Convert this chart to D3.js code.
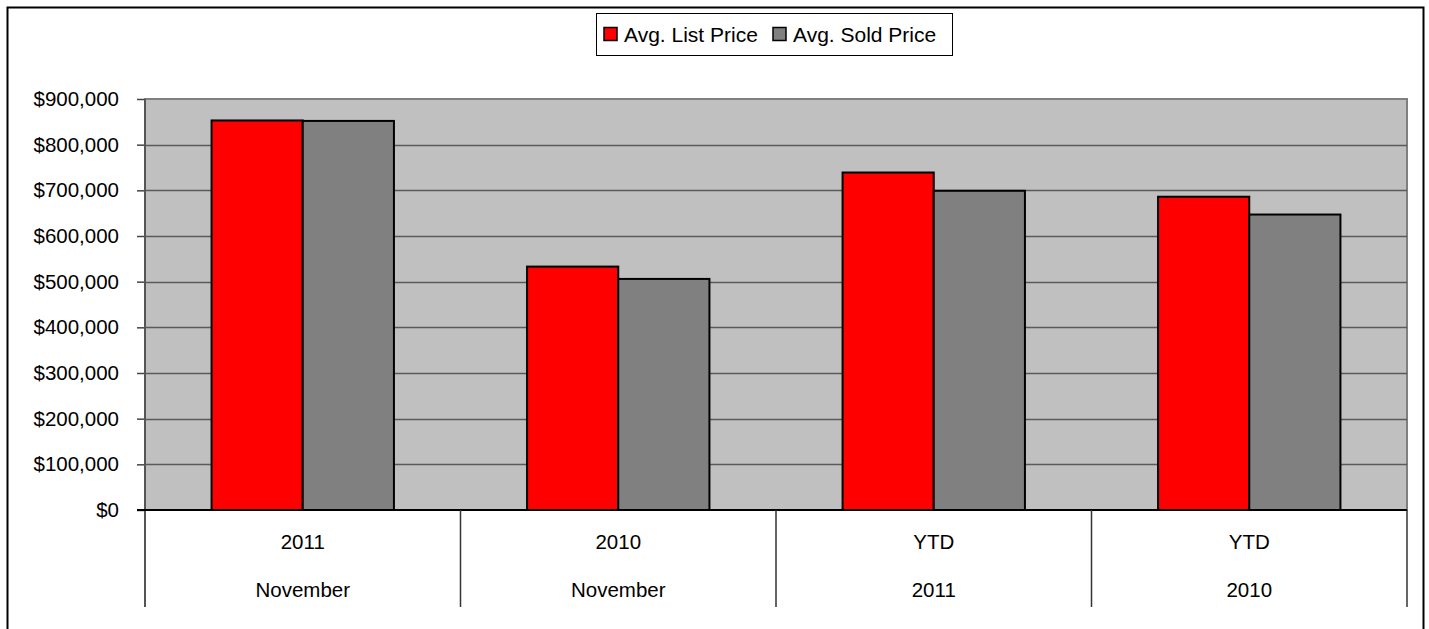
<!DOCTYPE html>
<html>
<head>
<meta charset="utf-8">
<script src="https://cdn.jsdelivr.net/npm/d3@7"></script>
<style>
  body { margin: 0; background: #fff; }
  svg text { font-family: "Liberation Sans", Arial, sans-serif; fill: #000; }
</style>
</head>
<body>
<svg id="chart" width="1429" height="629"></svg>
<script>
// chart data
var periods = ['2011', '2010', 'YTD', 'YTD'];
var groups = ['November', 'November', '2011', '2010'];
var seriesNames = ['Avg. List Price', 'Avg. Sold Price'];
var seriesColors = ['#ff0000', '#808080'];
var listPrice = [853000, 533000, 739000, 686000];
var soldPrice = [852000, 506000, 699000, 647000];
var yTicks = [0, 100000, 200000, 300000, 400000, 500000, 600000, 700000, 800000, 900000];

var svg = d3.select('#chart');
var plotLeft = 145, plotRight = 1407, plotTop = 99, plotBottom = 510;

// outer frame, open at the bottom
svg.append('path')
  .attr('d', 'M7.5,640V7.5H1423.5V640')
  .attr('fill', 'none').attr('stroke', '#000').attr('stroke-width', 2);

var x = d3.scaleBand().domain(d3.range(periods.length)).range([plotLeft, plotRight]);
var inner = d3.scaleBand().domain([0, 1]).range([0, x.bandwidth()]).paddingOuter(0.73);
var y = d3.scaleLinear().domain([0, 900000]).range([plotBottom, plotTop]);

// plot background
svg.append('rect')
  .attr('x', plotLeft).attr('y', plotTop)
  .attr('width', plotRight - plotLeft).attr('height', plotBottom - plotTop)
  .attr('fill', '#c0c0c0').attr('stroke', '#808080').attr('stroke-width', 2);

// grid lines
svg.append('g').selectAll('line')
  .data(yTicks.slice(1, -1))
  .join('line')
  .attr('x1', plotLeft).attr('x2', plotRight)
  .attr('y1', function(d) { return Math.round(y(d)) + 0.5; })
  .attr('y2', function(d) { return Math.round(y(d)) + 0.5; })
  .attr('stroke', '#5a5a5a').attr('stroke-width', 1.5);

// bars
var data = [];
periods.forEach(function(p, i) {
  data.push({ cat: i, s: 0, v: listPrice[i] });
  data.push({ cat: i, s: 1, v: soldPrice[i] });
});
svg.append('g').selectAll('rect')
  .data(data)
  .join('rect')
  .attr('x', function(d) { return x(d.cat) + inner(d.s); })
  .attr('y', function(d) { return y(d.v); })
  .attr('width', inner.bandwidth())
  .attr('height', function(d) { return y(0) - y(d.v); })
  .attr('fill', function(d) { return seriesColors[d.s]; })
  .attr('stroke', '#000').attr('stroke-width', 2);

// y axis
var yAxis = d3.axisLeft(y)
  .tickValues(yTicks)
  .tickSize(8)
  .tickPadding(18)
  .tickFormat(function(d) { return '$' + d3.format(',')(d); });
var ya = svg.append('g').attr('transform', 'translate(' + plotLeft + ',0)').call(yAxis);
ya.select('.domain').remove();
ya.selectAll('line').attr('stroke', '#444').attr('stroke-width', 1.5);
ya.selectAll('text').style('font-size', '20.5px').attr('fill', '#000');
svg.append('line')
  .attr('x1', plotLeft).attr('x2', plotLeft).attr('y1', plotTop).attr('y2', 607)
  .attr('stroke', '#555').attr('stroke-width', 2);

// x axis line and category separators
svg.append('line')
  .attr('x1', plotLeft - 8).attr('x2', plotRight).attr('y1', plotBottom).attr('y2', plotBottom)
  .attr('stroke', '#000').attr('stroke-width', 2);
svg.append('g').selectAll('line')
  .data(d3.range(1, periods.length + 1))
  .join('line')
  .attr('x1', function(i) { return plotLeft + i * x.step(); })
  .attr('x2', function(i) { return plotLeft + i * x.step(); })
  .attr('y1', plotBottom).attr('y2', 607)
  .attr('stroke', '#333').attr('stroke-width', 1.5);

var labels = svg.append('g');
labels.selectAll('text.row1')
  .data(periods)
  .join('text')
  .attr('class', 'row1')
  .attr('x', function(d, i) { return x(i) + x.bandwidth() / 2; })
  .attr('y', 549)
  .attr('text-anchor', 'middle')
  .style('font-size', '20.5px')
  .text(function(d) { return d; });
labels.selectAll('text.row2')
  .data(groups)
  .join('text')
  .attr('class', 'row2')
  .attr('x', function(d, i) { return x(i) + x.bandwidth() / 2; })
  .attr('y', 597)
  .attr('text-anchor', 'middle')
  .style('font-size', '20.5px')
  .text(function(d) { return d; });

// legend
var legend = svg.append('g');
legend.append('rect')
  .attr('x', 596.5).attr('y', 13.5).attr('width', 356).attr('height', 42)
  .attr('fill', '#fff').attr('stroke', '#000').attr('stroke-width', 1);
var lx = [604, 773];
seriesNames.forEach(function(name, i) {
  legend.append('rect')
    .attr('x', lx[i]).attr('y', 27.5).attr('width', 13).attr('height', 13)
    .attr('fill', seriesColors[i]).attr('stroke', '#000').attr('stroke-width', 1.5);
  legend.append('text')
    .attr('x', lx[i] + 20).attr('y', 42)
    .style('font-size', '21px')
    .text(name);
});
</script>
</body>
</html>
